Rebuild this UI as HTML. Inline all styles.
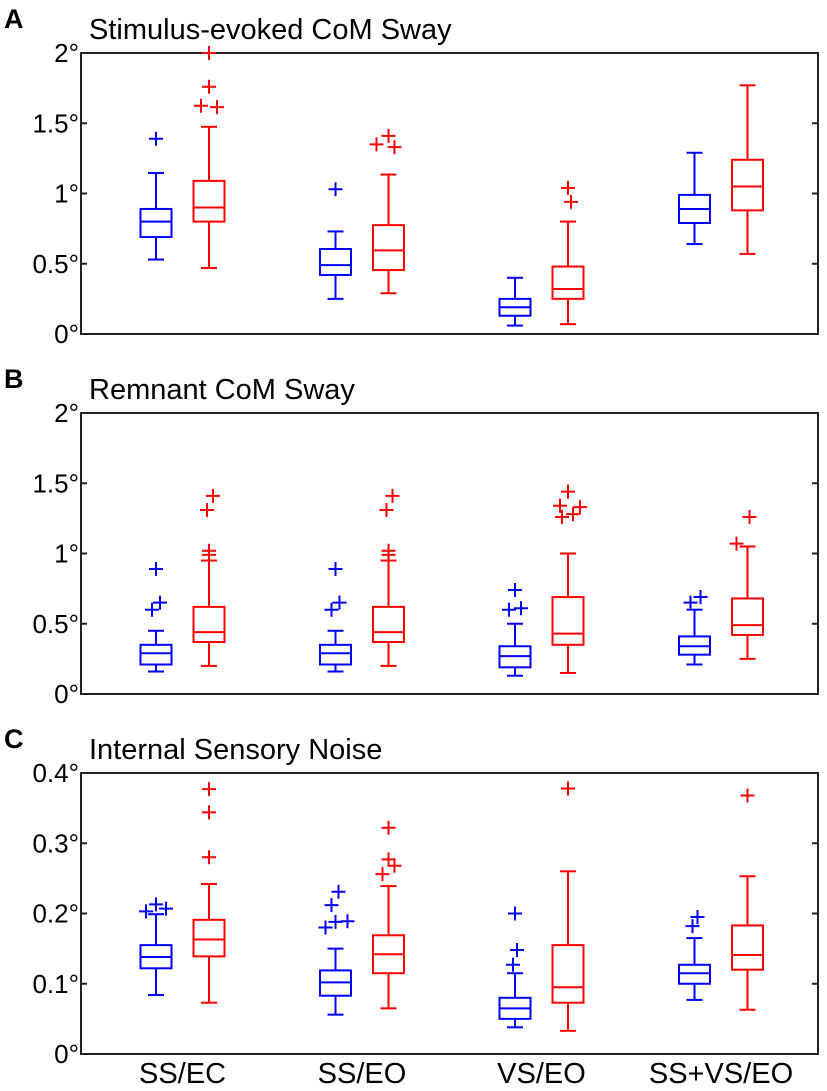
<!DOCTYPE html>
<html><head><meta charset="utf-8"><style>
body{margin:0;background:#fff;}
svg{display:block;font-family:"Liberation Sans",Arial,sans-serif;}
</style></head><body>
<svg id="chart" width="827" height="1091" viewBox="0 0 827 1091"></svg>
<script>
const categories = ["SS/EC","SS/EO","VS/EO","SS+VS/EO"];
const panelTitles = ["Stimulus-evoked CoM Sway","Remnant CoM Sway","Internal Sensory Noise"];
const panelLetters = ["A","B","C"];
const panelMax = [2, 2, 0.4];
const tickLabelsA = ["0°","0.5°","1°","1.5°","2°"];
const tickValuesA = [0,0.5,1,1.5,2];
const tickLabelsC = ["0°","0.1°","0.2°","0.3°","0.4°"];
const tickValuesC = [0,0.1,0.2,0.3,0.4];
// each box: [lowWhisker, q1, median, q3, highWhisker]
const blueA = [[0.53,0.69,0.80,0.89,1.146],[0.25,0.42,0.49,0.605,0.73],[0.06,0.13,0.19,0.25,0.40],[0.64,0.79,0.89,0.99,1.29]];
const redA  = [[0.47,0.80,0.90,1.09,1.475],[0.29,0.455,0.595,0.775,1.135],[0.07,0.25,0.32,0.48,0.80],[0.57,0.88,1.05,1.24,1.77]];
const blueOutA = [[1.39],[1.03],[],[]];
const redOutA  = [[2.0,1.76,1.625,1.615],[1.35,1.41,1.33],[1.04,0.94],[]];
const blueB = [[0.16,0.21,0.29,0.35,0.45],[0.16,0.21,0.29,0.35,0.45],[0.13,0.19,0.27,0.34,0.50],[0.21,0.28,0.34,0.41,0.60]];
const redB  = [[0.20,0.37,0.44,0.62,0.95],[0.20,0.37,0.44,0.62,0.95],[0.15,0.35,0.43,0.69,1.00],[0.25,0.42,0.49,0.68,1.05]];
const blueOutB = [[0.89,0.65,0.60],[0.89,0.65,0.60],[0.74,0.60,0.61],[0.65,0.69]];
const redOutB  = [[1.41,1.31,1.02,0.99],[1.41,1.31,1.02,0.99],[1.44,1.34,1.33,1.26,1.28],[1.26,1.07]];
const blueC = [[0.084,0.122,0.138,0.155,0.199],[0.056,0.083,0.102,0.119,0.150],[0.038,0.05,0.065,0.08,0.115],[0.077,0.10,0.115,0.127,0.165]];
const redC  = [[0.073,0.139,0.163,0.191,0.242],[0.065,0.115,0.142,0.169,0.239],[0.033,0.073,0.095,0.155,0.26],[0.063,0.12,0.141,0.183,0.253]];
const blueOutC = [[0.203,0.213,0.207],[0.231,0.212,0.180,0.188,0.189],[0.20,0.148,0.127],[0.182,0.195]];
const redOutC  = [[0.377,0.344,0.280],[0.322,0.277,0.256,0.268],[0.378],[0.368]];
// horizontal jitter (px) of outlier markers as drawn
const jitBlue = [[[0],[0],[],[]],[[0,4,-4],[0,4,-4],[0,-6,6],[-4,6]],[[-10,0,10],[3,-4,-10,0,12],[0,2,-2],[-2,3]]];
const jitRed  = [[[0,0,-8,8],[-12,0,6],[0,3],[]],[[4,-2,0,0],[4,-2,0,0],[0,-8,12,-6,5],[2,-11]],[[0,0,0],[0,0,-6,6],[0],[0]]];

const svg = document.getElementById('chart');
const NS = 'http://www.w3.org/2000/svg';
function mk(tag, attrs){const e=document.createElementNS(NS,tag);for(const k in attrs)e.setAttribute(k,attrs[k]);svg.appendChild(e);return e;}
const left=81, right=818, boxW=31, capW=16;
const tops=[53,413,773], height=281;
const blueX = i => 156 + i*179.5;
const redX = i => 209 + i*179.5;
const panels = [[blueA,redA,blueOutA,redOutA],[blueB,redB,blueOutB,redOutB],[blueC,redC,blueOutC,redOutC]];
panels.forEach((pd,p)=>{
  const top=tops[p], bot=top+height;
  const y = v => bot - v/panelMax[p]*height;
  let t=mk('text',{x:4,y:top-25,'font-size':27,'font-weight':'bold',fill:'#000'});t.textContent=panelLetters[p];
  
  
  t=mk('text',{x:89,y:top-14,'font-size':29,fill:'#000'});t.textContent=panelTitles[p];
  
  
  const r=mk('rect',{x:left,y:top,width:right-left,height:height,fill:'none',stroke:'#222','stroke-width':2});
  
  
  const tv = p===2?tickValuesC:tickValuesA, tl = p===2?tickLabelsC:tickLabelsA;
  tv.forEach((v,k)=>{
    const l=mk('line',{x1:left,x2:left+6,y1:y(v),y2:y(v),stroke:'#222','stroke-width':2});
    
    
    const l2=mk('line',{x1:right-6,x2:right,y1:y(v),y2:y(v),stroke:'#222','stroke-width':2});
    
    
    const tx=mk('text',{x:79,y:y(v)+9,'font-size':26,'text-anchor':'end',fill:'#000'});tx.textContent=tl[k];
    
    
  });
  [[pd[0],pd[2],blueX,'#0000ff',jitBlue[p],'blue'],[pd[1],pd[3],redX,'#ff0000',jitRed[p],'red']].forEach(([boxes,outs,fx,col,jit,nm])=>{
    boxes.forEach((b,i)=>{
      const cx=fx(i);
      const g=document.createElementNS(NS,'g');svg.appendChild(g);
      
      
      const add=(tag,a)=>{const e=document.createElementNS(NS,tag);for(const k in a)e.setAttribute(k,a[k]);e.setAttribute('stroke',col);e.setAttribute('stroke-width',2);e.setAttribute('fill','none');g.appendChild(e);};
      add('line',{x1:cx,x2:cx,y1:y(b[0]),y2:y(b[1])});
      add('line',{x1:cx,x2:cx,y1:y(b[3]),y2:y(b[4])});
      add('line',{x1:cx-capW/2,x2:cx+capW/2,y1:y(b[0]),y2:y(b[0])});
      add('line',{x1:cx-capW/2,x2:cx+capW/2,y1:y(b[4]),y2:y(b[4])});
      add('rect',{x:cx-boxW/2,y:y(b[3]),width:boxW,height:y(b[1])-y(b[3])});
      add('line',{x1:cx-boxW/2,x2:cx+boxW/2,y1:y(b[2]),y2:y(b[2])});
      outs[i].forEach((v,k)=>{
        const ox=cx+(jit[i][k]||0), oy=y(v);
        add('path',{d:`M${ox-7},${oy}H${ox+7}M${ox},${oy-7}V${oy+7}`});
      });
    });
  });
});
categories.forEach((c,i)=>{
  const t=mk('text',{x:(blueX(i)+redX(i))/2,y:1083,'font-size':29,'text-anchor':'middle',fill:'#000'});t.textContent=c;
  
  
});
</script>
</body></html>
